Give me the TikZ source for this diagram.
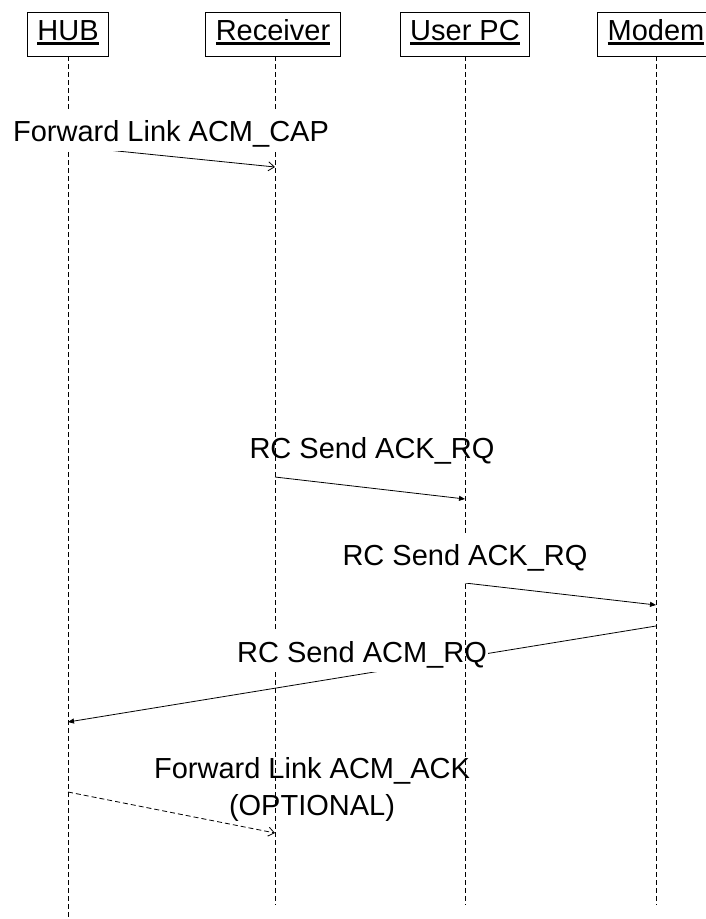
\documentclass[tikz,border=0pt]{standalone}
\usepackage{fontspec}
\setmainfont{Liberation Sans}
\usetikzlibrary{arrows.meta}
\newcommand\ulbox[1]{\setbox0\hbox{#1}\rlap{\rule[-4.5pt]{\wd0}{2.2pt}}\box0}
\tikzset{
  actor/.style={draw, line width=0.8pt, font=\fontsize{29}{35}\selectfont,
    inner xsep=10pt, inner ysep=5pt, text height=23pt, text depth=11pt},
  lifeline/.style={line width=0.8pt, dash pattern=on 5pt off 3pt},
  msg/.style={line width=0.8pt},
  msgopen/.style={msg, -{Straight Barb[length=6pt,width=9pt]}},
  msgfill/.style={msg, -{Triangle[length=6pt,width=5pt]}},
  lbl/.style={font=\fontsize{29}{37}\selectfont, inner ysep=0pt, inner xsep=1pt,
    text height=30pt, text depth=10pt, anchor=base},
  lblfill/.style={lbl, fill=white},
}
\begin{document}
\begin{tikzpicture}[x=1pt,y=-1pt]
\useasboundingbox (0,0) rectangle (706,919);
\clip (0,0) rectangle (706,919);
\fill[white] (0,0) rectangle (706,919);
% participants
\node[actor] (hub) at (68,34) {\ulbox{HUB}};
\node[actor] (rcv) at (273,34) {\ulbox{Receiver}};
\node[actor] (upc) at (465,34) {\ulbox{User PC}};
\node[actor] (mdm) at (656,34) {\ulbox{Modem}};
\coordinate (rcvtop) at (275,56);
\coordinate (hubend) at (68,919);
\coordinate (rcvend) at (275,905);
\coordinate (upcend) at (465,905);
\coordinate (mdmend) at (656,905);
% message end points
\coordinate (m1s) at (68,146);  \coordinate (m1e) at (275,167);
\coordinate (m2s) at (275,477); \coordinate (m2e) at (465,499);
\coordinate (m3s) at (465,583); \coordinate (m3e) at (656,605);
\coordinate (m4s) at (656,626); \coordinate (m4e) at (68,722);
\coordinate (m5s) at (68,792);  \coordinate (m5e) at (275,833);
% lifelines (first group)
\draw[lifeline] (hub.south) -- (hubend);
\draw[lifeline] (rcvtop) -- (rcvend);
\draw[lifeline] (mdm.south) -- (mdmend);
% messages
\draw[msgopen] (m1s) -- (m1e);
\draw[msgfill] (m2s) -- (m2e);
\draw[msgfill] (m3s) -- (m3e);
\draw[msgfill] (m4s) -- (m4e);
\draw[msgopen, dash pattern=on 5pt off 3pt] (m5s) -- (m5e);
% labels covering lines
\node[lblfill] (l1) at (171,141) {Forward Link ACM\_CAP};
\node[lblfill] (l4) at (362,662) {RC Send ACM\_RQ};
% user pc lifeline
\draw[lifeline] (upc.south) -- (upcend);
\node[lblfill, text depth=18pt] (l3) at (465,565) {RC Send ACK\_RQ};
\node[lbl] (l2) at (372,458) {RC Send ACK\_RQ};
\node[font=\fontsize{29}{37}\selectfont, align=center, anchor=base] (l5) at (312,815)
  {Forward Link ACM\_ACK\\(OPTIONAL)};
\end{tikzpicture}
\end{document}
